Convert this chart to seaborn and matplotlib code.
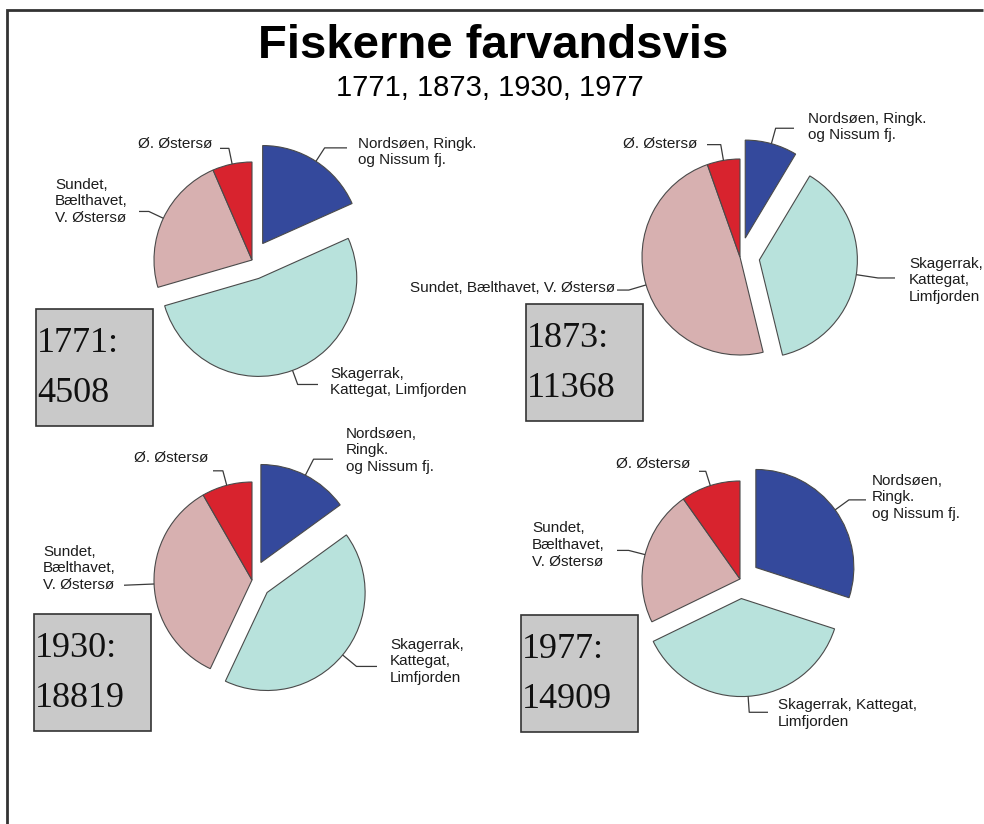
import numpy as np
import matplotlib
matplotlib.use("Agg")
import matplotlib.pyplot as plt
from matplotlib.patches import Rectangle
import seaborn as sns

# ── Data ──────────────────────────────────────────────────────────────────────
REGIONS = ["Nordsøen, Ringk. og Nissum fj.", "Skagerrak, Kattegat, Limfjorden",
           "Sundet, Bælthavet, V. Østersø", "Ø. Østersø"]
YEARS  = [1771, 1873, 1930, 1977]
TOTALS = [4508, 11368, 18819, 14909]

# share of fishermen per region (%)
SHARE_1771 = [18.3, 52.2, 23.0, 6.5]
SHARE_1873 = [8.6, 37.6, 48.4, 5.4]
SHARE_1930 = [15.0, 42.0, 34.7, 8.3]
SHARE_1977 = [30.0, 37.8, 22.4, 9.8]
SHARES = [SHARE_1771, SHARE_1873, SHARE_1930, SHARE_1977]

# slice labels, wrapped as in the original
LABELS_1771 = ["Nordsøen, Ringk.\nog Nissum fj.", "Skagerrak,\nKattegat, Limfjorden",
               "Sundet,\nBælthavet,\nV. Østersø", "Ø. Østersø"]
LABELS_1873 = ["Nordsøen, Ringk.\nog Nissum fj.", "Skagerrak,\nKattegat,\nLimfjorden",
               "Sundet, Bælthavet, V. Østersø", "Ø. Østersø"]
LABELS_1930 = ["Nordsøen,\nRingk.\nog Nissum fj.", "Skagerrak,\nKattegat,\nLimfjorden",
               "Sundet,\nBælthavet,\nV. Østersø", "Ø. Østersø"]
LABELS_1977 = ["Nordsøen,\nRingk.\nog Nissum fj.", "Skagerrak, Kattegat,\nLimfjorden",
               "Sundet,\nBælthavet,\nV. Østersø", "Ø. Østersø"]
LABELS = [LABELS_1771, LABELS_1873, LABELS_1930, LABELS_1977]

COLORS = sns.color_palette(["#34499c", "#b8e2dc", "#d7b0b0", "#d8232e"])

# ── Layout (pixels, y measured from top) ──────────────────────────────────────
W, H = 984, 824
RADIUS = 98
EXPLODE = [0.2, 0.2, 0, 0]          # fraction of the radius
PIE_CENTERS = [(252, 260), (740, 257), (252, 580), (740, 579)]
BOX_CORNERS = [(36, 309), (526, 304), (34, 614), (521, 615)]
BOX_SIZE = 117

# per label: text x, first line centre y, alignment, radial leader length, leader end x
LABEL_POS = [
    [(358, 145, "left", 16, 347), (330, 375, "left", 15, 318),
     (55, 186, "left", 16, 139), (212, 145, "right", 16, 220)],
    [(808, 120, "left", 16, 794), (909, 265, "left", 22, 895),
     (615, 289, "right", 18, 617), (697, 145, "right", 16, 707)],
    [(346, 435, "left", 18, 333), (390, 646, "left", 18, 377),
     (43, 553, "left", 30, 124), (208, 459, "right", 15, 213)],
    [(872, 482, "left", 17, 866), (778, 707, "left", 16, 768),
     (532, 530, "left", 17, 617), (690, 465, "right", 15, 699)],
]

SANS = "Liberation Sans"
SERIF = "Liberation Serif"
TEXT_C = "#1c1c1c"
LINE_C = "#3a3a3a"


def py(y):
    """pixel row (from top) -> data y (from bottom)"""
    return H - y


def main():
    sns.set_theme(style="white")
    plt.rcParams["font.family"] = [SANS, "DejaVu Sans"]

    fig = plt.figure(figsize=(W / 100, H / 100), dpi=100)
    fig.patch.set_facecolor("white")
    ax = fig.add_axes([0, 0, 1, 1])

    for i in range(len(YEARS)):
        cx, cy = PIE_CENTERS[i]
        wedges, _ = ax.pie(
            SHARES[i], colors=COLORS, explode=[e * RADIUS for e in EXPLODE],
            startangle=90, counterclock=False, radius=RADIUS, center=(cx, py(cy)),
            wedgeprops=dict(edgecolor="#4a4a4a", linewidth=0.8),
        )

        # labels with leader lines from the middle of each slice's arc
        for w, text, (tx, ty, ha, lead, xend) in zip(wedges, LABELS[i], LABEL_POS[i]):
            th = np.deg2rad((w.theta1 + w.theta2) / 2)
            d = np.array([np.cos(th), np.sin(th)])
            anchor = np.array(w.center) + w.r * d
            elbow = anchor + lead * d
            ax.plot([anchor[0], elbow[0], xend], [anchor[1], elbow[1], elbow[1]],
                    color=LINE_C, linewidth=0.9, solid_capstyle="butt")
            ax.text(tx, py(ty - 8.5), text, ha=ha, va="top", fontsize=11,
                    color=TEXT_C, linespacing=1.25)

        # grey box with year and total
        bx, by = BOX_CORNERS[i]
        ax.add_patch(Rectangle((bx, py(by + BOX_SIZE)), BOX_SIZE, BOX_SIZE,
                               facecolor="#c9c9c9", edgecolor="#333333", linewidth=1.2,
                               zorder=3))
        ax.text(bx + 1, py(by + 43), f"{YEARS[i]}:", fontsize=26, family=SERIF,
                color="#111111", va="baseline", ha="left", zorder=4)
        ax.text(bx + 1, py(by + 93), f"{TOTALS[i]}", fontsize=26, family=SERIF,
                color="#111111", va="baseline", ha="left", zorder=4)

    # titles
    ax.text(493, py(58), "Fiskerne farvandsvis", ha="center", va="baseline",
            fontsize=34, fontweight="bold", color="black")
    ax.text(490, py(96), "1771, 1873, 1930, 1977", ha="center", va="baseline",
            fontsize=21, color="black")

    # page frame: top and left edges
    ax.plot([W - 1, 7, 7], [py(10), py(10), 0], color="#333333", linewidth=2,
            solid_joinstyle="miter", solid_capstyle="butt")

    ax.set_xlim(0, W)
    ax.set_ylim(0, H)
    ax.set_aspect("equal")
    ax.set_axis_off()

    fig.savefig("out.png", dpi=100, facecolor="white")
    plt.close(fig)


if __name__ == "__main__":
    main()
